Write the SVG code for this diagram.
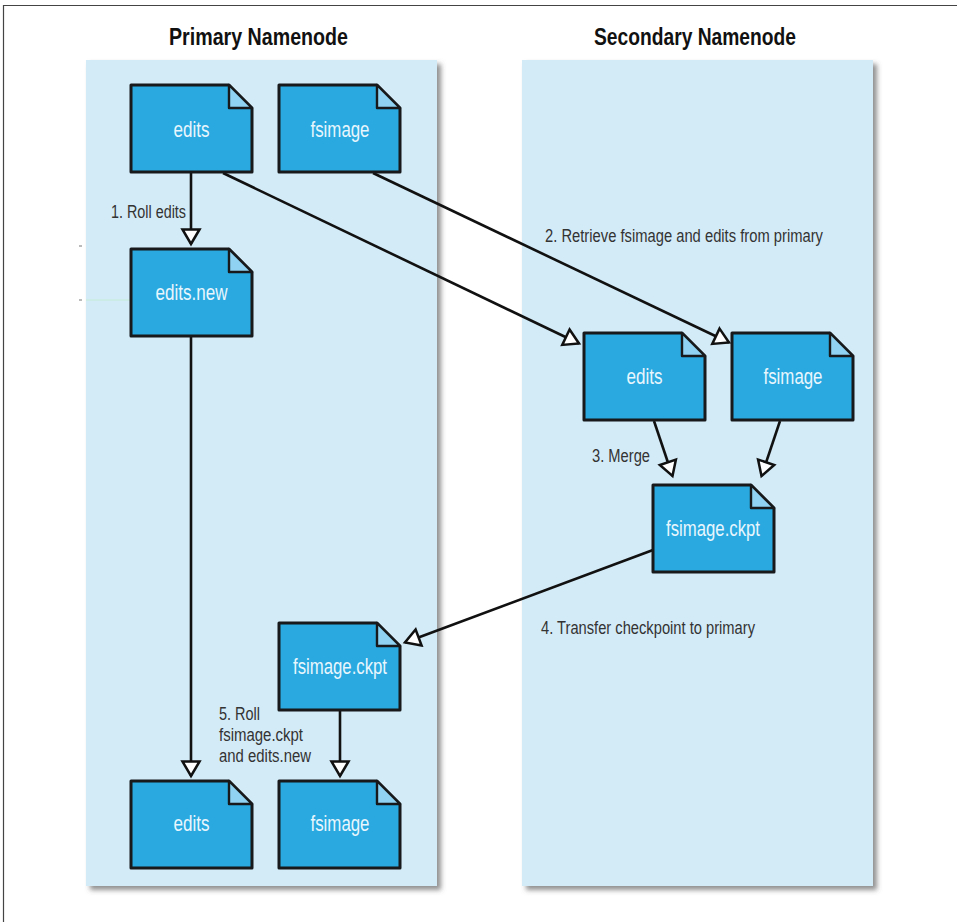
<svg xmlns="http://www.w3.org/2000/svg" width="957" height="922" viewBox="0 0 957 922">
<style>
text{font-family:"Liberation Sans",Arial,sans-serif}
.title{font-size:23px;font-weight:700;fill:#111}
.doc{font-size:22px;fill:#e8f6fd;text-anchor:middle}
.lab{font-size:17.500px;fill:#333}
.body{fill:#29a9e0;stroke:#17191a;stroke-width:3;stroke-linejoin:round}
.fold{fill:#8fd2f2;stroke:#17191a;stroke-width:2.4;stroke-linejoin:round}
.panel{fill:#d3ebf7;filter:url(#sh)}
.con{fill:none;stroke:#111;stroke-width:2.6;marker-end:url(#tri)}
</style>
<defs>
<filter id="sh" x="-5%" y="-5%" width="110%" height="110%"><feDropShadow dx="4" dy="4" stdDeviation="2.5" flood-color="#555" flood-opacity=".65"/></filter>
<marker id="tri" markerUnits="userSpaceOnUse" markerWidth="24" markerHeight="24" refX="16" refY="12" orient="auto" viewBox="0 0 24 24" overflow="visible"><path d="M1.500,3.500 L16,12 L1.500,20.500 Z" fill="#fff" stroke="#111" stroke-width="2.500" stroke-linejoin="miter"/></marker>
<g id="d"><path class="body" d="M0,0H98L121,23V87H0Z"/><path class="fold" d="M98,0L121,23H98Z"/></g>
</defs>
<rect width="957" height="922" fill="#fff"/>
<path d="M3.5,922V5.5H957" fill="none" stroke="#444" stroke-width="1.2"/>
<path d="M79,246h3M79,300h3" stroke="#777" stroke-width="1"/>
<g id="primary-panel"><rect class="panel" x="86" y="60" width="351" height="826"/><text class="title" x="169" y="45" textLength="179" lengthAdjust="spacingAndGlyphs">Primary Namenode</text></g>
<g id="secondary-panel"><rect class="panel" x="522" y="60" width="351" height="826"/><text class="title" x="594" y="45" textLength="202" lengthAdjust="spacingAndGlyphs">Secondary Namenode</text></g>
<path d="M86,300h45" stroke="#c4ecd8" stroke-width="1"/>
<g id="connectors">
<path class="con" d="M191,173V244"/>
<path class="con" d="M223,173L579,343.500"/>
<path class="con" d="M373,173L729,342.500"/>
<path class="con" d="M654,421L672.500,476"/>
<path class="con" d="M780,421L761.500,476"/>
<path class="con" d="M653,550L405,642.500"/>
<path class="con" d="M191,336V776"/>
<path class="con" d="M340,710V776"/>
</g>
<path d="M131,300h6" stroke="#2c4" stroke-width="1"/>
<g id="n-edits"><use href="#d" x="131" y="85"/><text class="doc" x="191.500" y="137" textLength="36" lengthAdjust="spacingAndGlyphs">edits</text></g>
<g id="n-fsimage"><use href="#d" x="279" y="85"/><text class="doc" x="340" y="137" textLength="59" lengthAdjust="spacingAndGlyphs">fsimage</text></g>
<g id="n-edits-new"><use href="#d" x="131" y="249"/><text class="doc" x="191.500" y="300" textLength="72" lengthAdjust="spacingAndGlyphs">edits.new</text></g>
<g id="s-edits"><use href="#d" x="584" y="333"/><text class="doc" x="644.500" y="384" textLength="36" lengthAdjust="spacingAndGlyphs">edits</text></g>
<g id="s-fsimage"><use href="#d" x="732" y="333"/><text class="doc" x="793" y="384" textLength="59" lengthAdjust="spacingAndGlyphs">fsimage</text></g>
<g id="s-ckpt"><use href="#d" x="653" y="485"/><text class="doc" x="713" y="536" textLength="94" lengthAdjust="spacingAndGlyphs">fsimage.ckpt</text></g>
<g id="p-ckpt"><use href="#d" x="279" y="623"/><text class="doc" x="340" y="674" textLength="94" lengthAdjust="spacingAndGlyphs">fsimage.ckpt</text></g>
<g id="p-edits"><use href="#d" x="131" y="781"/><text class="doc" x="191.500" y="831" textLength="36" lengthAdjust="spacingAndGlyphs">edits</text></g>
<g id="p-fsimage"><use href="#d" x="279" y="781"/><text class="doc" x="340" y="831" textLength="59" lengthAdjust="spacingAndGlyphs">fsimage</text></g>
<g id="labels">
<text class="lab" x="111" y="218" textLength="75" lengthAdjust="spacingAndGlyphs">1. Roll edits</text>
<text class="lab" x="545" y="242" textLength="278" lengthAdjust="spacingAndGlyphs">2. Retrieve fsimage and edits from primary</text>
<text class="lab" x="592" y="462" textLength="58" lengthAdjust="spacingAndGlyphs">3. Merge</text>
<text class="lab" x="541" y="634" textLength="214" lengthAdjust="spacingAndGlyphs">4. Transfer checkpoint to primary</text>
<text class="lab" x="219" y="720" textLength="41" lengthAdjust="spacingAndGlyphs">5. Roll</text>
<text class="lab" x="219" y="741" textLength="84" lengthAdjust="spacingAndGlyphs">fsimage.ckpt</text>
<text class="lab" x="219" y="762" textLength="92" lengthAdjust="spacingAndGlyphs">and edits.new</text>
</g>
</svg>
